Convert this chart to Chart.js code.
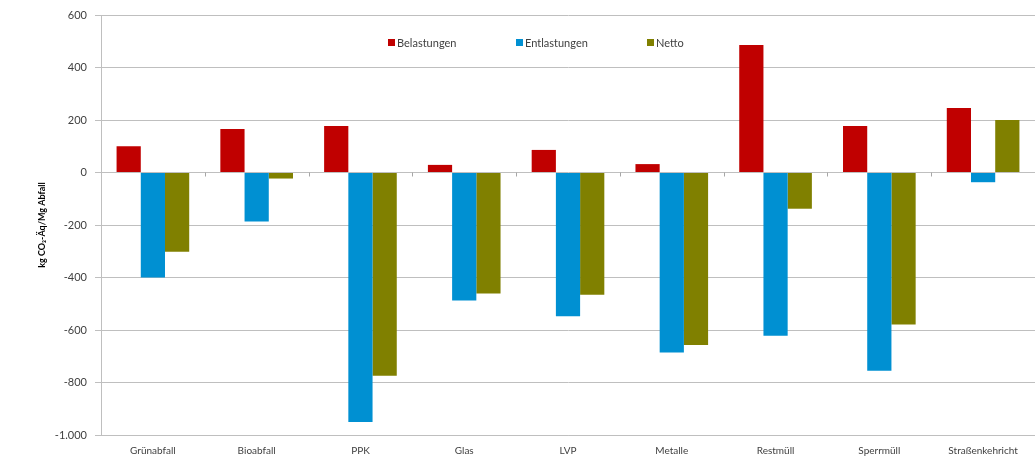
<!DOCTYPE html>
<html>
<head>
<meta charset="utf-8">
<script src="https://cdn.jsdelivr.net/npm/chart.js@4/dist/chart.umd.min.js"></script>
<style>
  html, body { margin: 0; padding: 0; background: #fff; }
  #wrap { position: relative; width: 1035px; height: 459px; }
</style>
</head>
<body>
<div id="wrap"><canvas id="c" width="1035" height="459"></canvas></div>
<script>
const categories = ["Grünabfall", "Bioabfall", "PPK", "Glas", "LVP", "Metalle", "Restmüll", "Sperrmüll", "Straßenkehricht"];
const belastungen = [100, 166, 177, 29, 86, 32, 486, 177, 246];
const entlastungen = [-400, -187, -950, -488, -548, -686, -622, -755, -37];
const netto = [-302, -23, -774, -461, -466, -657, -138, -579, 200];
const seriesNames = ["Belastungen", "Entlastungen", "Netto"];
const seriesColors = ["#C00000", "#0090D2", "#808000"];
const yTitle = "kg CO₂-Äq/Mg Abfall";
const yMin = -1000, yMax = 600, yStep = 200;

const FONT = "Lato, 'Open Sans', 'Liberation Sans', sans-serif";
const GRID = "#BFBFBF";

const legendPlugin = {
  id: 'insideLegend',
  afterDraw(chart) {
    const ctx = chart.ctx;
    const starts = [388, 516, 647];
    const y = 43;
    ctx.save();
    ctx.font = "11px " + FONT;
    ctx.textBaseline = "middle";
    ctx.textAlign = "left";
    chart.data.datasets.forEach((ds, i) => {
      ctx.fillStyle = ds.backgroundColor;
      ctx.fillRect(starts[i], y - 4, 7, 7);
      ctx.fillStyle = "#404040";
      ctx.fillText(ds.label, starts[i] + 9, y);
    });
    ctx.restore();
  }
};

const zeroTicksPlugin = {
  id: 'zeroTicks',
  afterDatasetsDraw(chart) {
    const xs = chart.scales.x, ys = chart.scales.y;
    const y0 = ys.getPixelForValue(0);
    const ctx = chart.ctx;
    ctx.save();
    ctx.strokeStyle = "#A6A6A6";
    ctx.lineWidth = 1;
    for (let i = 1; i < categories.length; i++) {
      const x = Math.round((xs.getPixelForValue(i - 1) + xs.getPixelForValue(i)) / 2) + 0.5;
      ctx.beginPath();
      ctx.moveTo(x, y0);
      ctx.lineTo(x, y0 + 4);
      ctx.stroke();
    }
    ctx.restore();
  }
};

new Chart(document.getElementById('c'), {
  type: 'bar',
  data: {
    labels: categories,
    datasets: [
      { label: seriesNames[0], data: belastungen, backgroundColor: seriesColors[0] },
      { label: seriesNames[1], data: entlastungen, backgroundColor: seriesColors[1] },
      { label: seriesNames[2], data: netto, backgroundColor: seriesColors[2] }
    ]
  },
  options: {
    responsive: false,
    animation: false,
    devicePixelRatio: 1,
    layout: { padding: { top: 15, left: 0, right: 0, bottom: 0 } },
    datasets: { bar: { categoryPercentage: 0.7, barPercentage: 1.0 } },
    plugins: { legend: { display: false }, tooltip: { enabled: false } },
    scales: {
      x: {
        offset: true,
        grid: { display: false, drawTicks: false },
        border: { display: true, color: GRID, width: 1 },
        ticks: { color: "#404040", font: { family: FONT, size: 10 }, padding: 10, maxRotation: 0, autoSkip: false },
        afterFit(s) { s.height = 24; }
      },
      y: {
        min: yMin, max: yMax,
        grid: { color: GRID, lineWidth: 1, tickLength: 6, drawTicks: true },
        border: { display: true, color: GRID, width: 1 },
        ticks: {
          stepSize: yStep,
          color: "#404040",
          font: { family: FONT, size: 11 },
          padding: 8,
          callback: v => Number(v).toLocaleString('de-DE')
        },
        title: {
          display: true, text: yTitle, color: "#000",
          font: { family: FONT, size: 9, weight: 'bold' },
          padding: { top: 37, bottom: 0 }
        },
        afterFit(s) { s.width = 101; }
      }
    }
  },
  plugins: [legendPlugin, zeroTicksPlugin]
});
</script>
</body>
</html>
